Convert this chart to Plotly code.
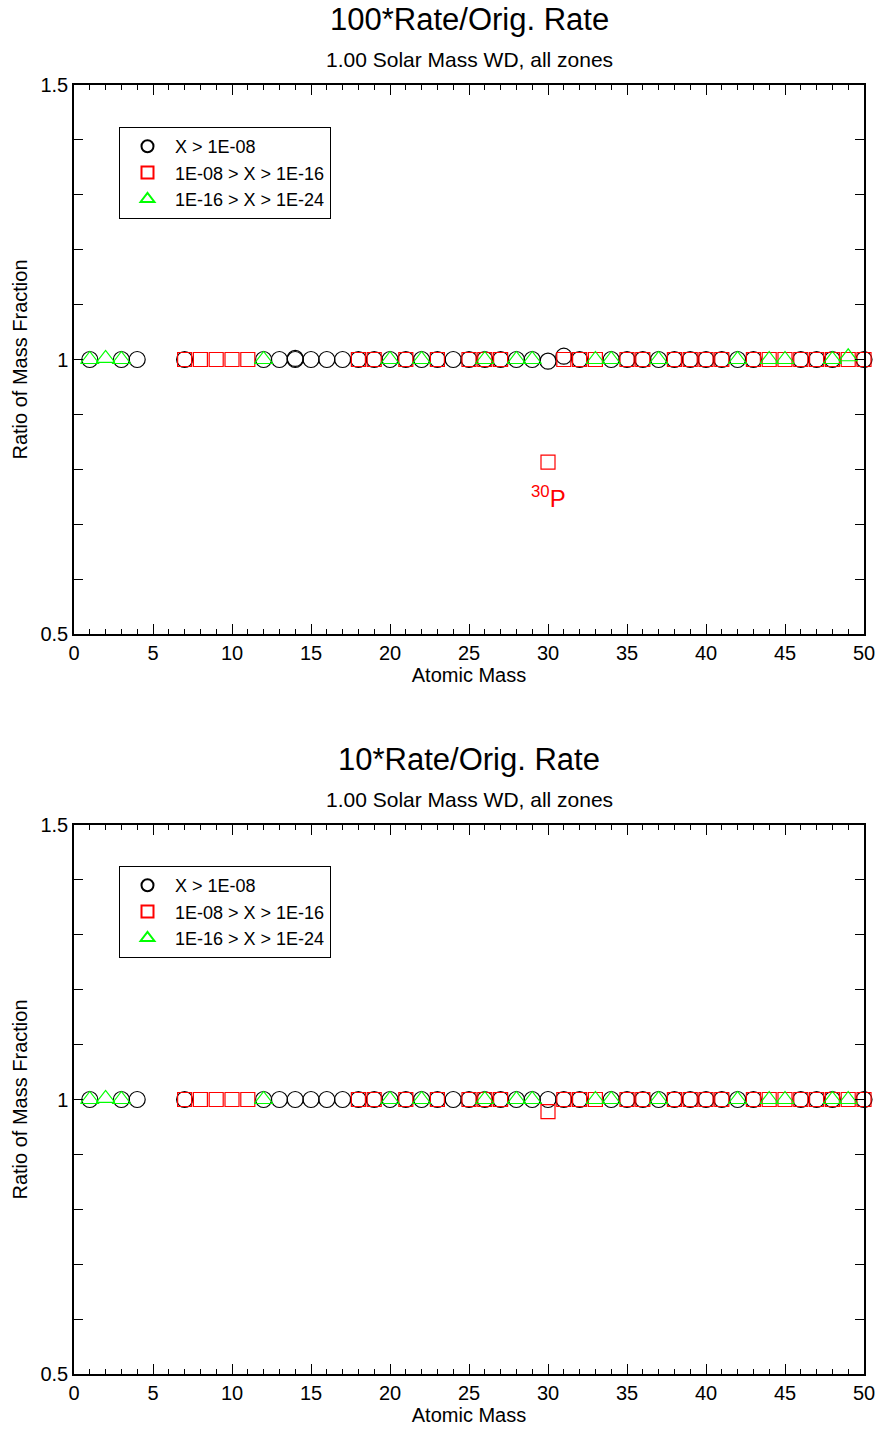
import plotly.graph_objects as go
from plotly.subplots import make_subplots

# ---- data ----
circle_mass_top = [1, 3, 4, 7, 12, 13, 14, 14, 15, 16, 17, 18, 19, 20, 21, 22, 23, 24, 25, 26, 27, 28, 29, 30, 31, 32, 34, 35, 36, 37, 38, 39, 40, 41, 42, 43, 46, 47, 48, 50]
circle_ratio_top = [1.0, 1.0, 1.0, 1.0, 1.0, 1.0, 1.0, 1.002, 1.0, 1.0, 1.0, 1.0, 1.0, 1.0, 1.0, 1.0, 1.0, 1.0, 1.0, 1.0, 1.0, 1.0, 1.0, 0.997, 1.006, 1.0, 1.0, 1.0, 1.0, 1.0, 1.0, 1.0, 1.0, 1.0, 1.0, 1.0, 1.0, 1.0, 1.0, 1.0]
square_mass_top = [7, 8, 9, 10, 11, 18, 19, 21, 23, 25, 26, 27, 30, 31, 32, 33, 35, 36, 38, 39, 40, 41, 43, 44, 45, 46, 47, 48, 49, 50]
square_ratio_top = [1.0, 1.0, 1.0, 1.0, 1.0, 1.0, 1.0, 1.0, 1.0, 1.0, 1.0, 1.0, 0.813, 1.0, 1.0, 1.0, 1.0, 1.0, 1.0, 1.0, 1.0, 1.0, 1.0, 1.0, 1.0, 1.0, 1.0, 1.0, 1.0, 1.0]
tri_mass_top = [1, 2, 3, 12, 20, 22, 26, 28, 29, 33, 34, 37, 42, 44, 45, 48, 49]
tri_ratio_top = [1.0, 1.002, 1.0, 1.0, 1.0, 1.0, 1.0, 1.0, 1.0, 1.0, 1.0, 1.0, 1.0, 1.0, 1.0, 1.0, 1.005]

circle_mass_bot = [1, 3, 4, 7, 12, 13, 14, 15, 16, 17, 18, 19, 20, 21, 22, 23, 24, 25, 26, 27, 28, 29, 30, 31, 32, 34, 35, 36, 37, 38, 39, 40, 41, 42, 43, 46, 47, 48, 50]
circle_ratio_bot = [1.0, 1.0, 1.0, 1.0, 1.0, 1.0, 1.0, 1.0, 1.0, 1.0, 1.0, 1.0, 1.0, 1.0, 1.0, 1.0, 1.0, 1.0, 1.0, 1.0, 1.0, 1.0, 1.0, 1.0, 1.0, 1.0, 1.0, 1.0, 1.0, 1.0, 1.0, 1.0, 1.0, 1.0, 1.0, 1.0, 1.0, 1.0, 1.0]
square_mass_bot = [7, 8, 9, 10, 11, 18, 19, 21, 23, 25, 26, 27, 30, 31, 32, 33, 35, 36, 38, 39, 40, 41, 43, 44, 45, 46, 47, 48, 49, 50]
square_ratio_bot = [1.0, 1.0, 1.0, 1.0, 1.0, 1.0, 1.0, 1.0, 1.0, 1.0, 1.0, 1.0, 0.978, 1.0, 1.0, 1.0, 1.0, 1.0, 1.0, 1.0, 1.0, 1.0, 1.0, 1.0, 1.0, 1.0, 1.0, 1.0, 1.0, 1.0]
tri_mass_bot = [1, 2, 3, 12, 20, 22, 26, 28, 29, 33, 34, 37, 42, 44, 45, 48, 49]
tri_ratio_bot = [1.0, 1.002, 1.0, 1.0, 1.0, 1.0, 1.0, 1.0, 1.0, 1.0, 1.0, 1.0, 1.0, 1.0, 1.0, 1.0, 1.0]

legend_names = ["X > 1E-08", "1E-08 > X > 1E-16", "1E-16 > X > 1E-24"]
titles = ["100*Rate/Orig. Rate", "10*Rate/Orig. Rate"]
subtitle = "1.00 Solar Mass WD, all zones"
x_ticks = [0, 5, 10, 15, 20, 25, 30, 35, 40, 45, 50]
y_ticks = [0.5, 1.0, 1.5]
y_ticktext = ["0.5", "1", "1.5"]
label_mass = 30
label_ratio = 0.75

FONT = "Liberation Sans, Arial, sans-serif"
TXT = 20

fig = make_subplots(rows=2, cols=1, vertical_spacing=191 / 1289)

panels = [
    (1, "legend", circle_mass_top, circle_ratio_top, square_mass_top, square_ratio_top, tri_mass_top, tri_ratio_top),
    (2, "legend2", circle_mass_bot, circle_ratio_bot, square_mass_bot, square_ratio_bot, tri_mass_bot, tri_ratio_bot),
]
styles = [("circle-open", "black", 16), ("square-open", "#ff0000", 14), ("triangle-up-open", "#00ff00", 16)]

for row, leg, cm, cr, sm, sr, tm, tr in panels:
    for (sym, col, sz), (xs, ys), name in zip(styles, [(cm, cr), (sm, sr), (tm, tr)], legend_names):
        fig.add_trace(go.Scatter(
            x=xs, y=ys, mode="markers", name=name, legend=leg,
            marker=dict(symbol=sym, color=col, size=sz, line=dict(color=col, width=1.2)),
            cliponaxis=False,
        ), row=row, col=1)

for row in (1, 2):
    fig.update_xaxes(range=[0, 50], tickvals=x_ticks, ticks="inside", ticklen=10, tickwidth=1,
                     tickcolor="black", showline=True, linecolor="black", linewidth=1.5, mirror="ticks",
                     showgrid=False, zeroline=False, automargin=False,
                     minor=dict(dtick=1, ticks="inside", ticklen=5, tickcolor="black", tickwidth=1, showgrid=False),
                     tickfont=dict(family=FONT, size=TXT, color="black"),
                     title=dict(text="Atomic Mass", font=dict(family=FONT, size=TXT, color="black"), standoff=0),
                     row=row, col=1)
    fig.update_yaxes(range=[0.5, 1.5], tickvals=y_ticks, ticktext=y_ticktext, ticks="inside", ticklen=9,
                     tickwidth=1, tickcolor="black", showline=True, linecolor="black", linewidth=1.5,
                     mirror="ticks", showgrid=False, zeroline=False, automargin=False,
                     minor=dict(dtick=0.1, ticks="inside", ticklen=9, tickcolor="black", tickwidth=1, showgrid=False),
                     tickfont=dict(family=FONT, size=TXT, color="black"),
                     title=dict(text="Ratio of Mass Fraction", font=dict(family=FONT, size=TXT, color="black"), standoff=7),
                     row=row, col=1)

fig.add_annotation(x=label_mass, y=label_ratio, xref="x", yref="y", text="<sup>30</sup>P",
                   showarrow=False, font=dict(family=FONT, size=24, color="#ff0000"))

# titles
top_plot_top = 1.0
bot_plot_top = 549 / 1289
for ytop, t in zip([top_plot_top, bot_plot_top], titles):
    fig.add_annotation(x=0.5, y=ytop, xref="paper", yref="paper", yshift=66, text=t, showarrow=False,
                       font=dict(family=FONT, size=31, color="black"), xanchor="center", yanchor="middle")
    fig.add_annotation(x=0.5, y=ytop, xref="paper", yref="paper", yshift=26, text=subtitle, showarrow=False,
                       font=dict(family=FONT, size=21, color="black"), xanchor="center", yanchor="middle")

leg_style = dict(bgcolor="white", bordercolor="black", borderwidth=1, xanchor="left", yanchor="top",
                 font=dict(family=FONT, size=18, color="black"), tracegroupgap=0, itemsizing="constant",
                 itemwidth=45)
fig.update_layout(
    width=879, height=1429,
    margin=dict(l=74, r=15, t=85, b=55),
    paper_bgcolor="white", plot_bgcolor="white",
    showlegend=True,
    legend=dict(x=45 / 790, y=1 - 42 / 1289, **leg_style),
    legend2=dict(x=45 / 790, y=(549 - 41) / 1289, **leg_style),
)

fig.write_html("out.html", config={"displayModeBar": False},
               post_script="document.body.style.margin='0';document.body.style.overflow='hidden';")
